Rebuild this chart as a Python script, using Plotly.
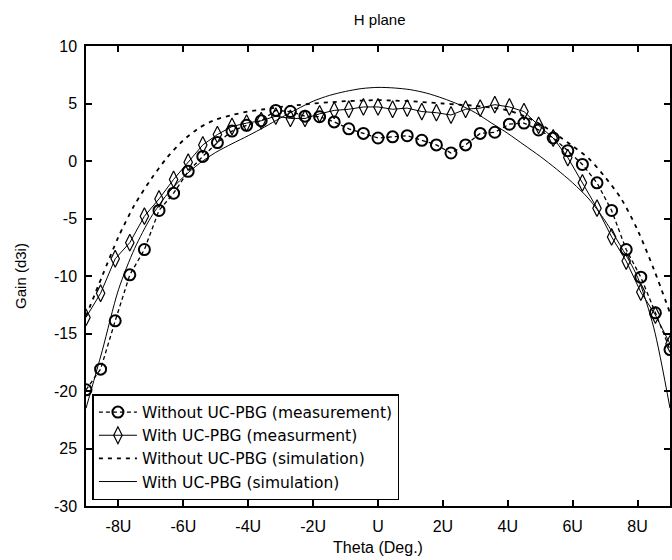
import plotly.graph_objects as go

# ---- data ----
theta_meas = [-90, -85.5, -81, -76.5, -72, -67.5, -63, -58.5, -54, -49.5, -45, -40.5, -36, -31.5,
              -27, -22.5, -18, -13.5, -9, -4.5, 0, 4.5, 9, 13.5, 18, 22.5, 27, 31.5, 36, 40.5,
              45, 49.5, 54, 58.5, 63, 67.5, 72, 76.5, 81, 85.5, 90]
without_meas = [-19.9, -18.1, -13.9, -9.9, -7.7, -4.3, -2.8, -0.9, 0.4, 1.6, 2.6, 3.1, 3.5, 4.4,
                4.3, 3.9, 3.85, 3.4, 2.8, 2.4, 2.0, 2.1, 2.2, 1.8, 1.4, 0.7, 1.4, 2.4, 2.5, 3.2,
                3.3, 2.7, 2.0, 0.9, -0.3, -1.9, -4.3, -7.7, -10.1, -13.2, -16.4]
with_meas = [-13.6, -11.5, -8.5, -7.1, -4.8, -3.3, -1.6, -0.1, 1.4, 2.3, 3.0, 3.3, 3.5, 3.9,
             3.7, 3.7, 4.1, 4.4, 4.5, 4.7, 4.7, 4.5, 4.6, 4.3, 4.2, 4.0, 4.5, 4.6, 4.9, 4.7,
             4.3, 3.1, 2.0, 0.3, -1.9, -4.1, -6.6, -8.7, -11.4, -13.4, -15.9]

theta_sim = [-90, -85, -80, -75, -70, -65, -60, -55, -50, -45, -40, -35, -30, -25, -20, -15, -10, -5,
             0, 5, 10, 15, 20, 25, 30, 35, 40, 45, 50, 55, 60, 65, 70, 75, 80, 85, 90]
without_sim = [-13.5, -10.0, -6.6, -3.8, -1.6, 0.3, 1.8, 2.9, 3.6, 4.0, 4.3, 4.5, 4.7, 4.85, 5.0, 5.1,
               5.2, 5.25, 5.3, 5.25, 5.2, 5.1, 5.0, 4.9, 4.8, 4.65, 4.4, 3.9, 3.2, 2.3, 1.3, 0.2,
               -1.4, -3.3, -6.0, -9.4, -13.2]
with_sim = [-21.5, -16.5, -11.2, -7.6, -4.9, -2.9, -1.4, -0.2, 0.75, 1.5, 2.2, 2.95, 3.75, 4.5, 5.2, 5.7,
            6.05, 6.3, 6.4, 6.35, 6.2, 5.9, 5.45, 4.9, 4.2, 3.3, 2.4, 1.4, 0.4, -0.7, -1.9, -3.3,
            -5.2, -7.5, -10.1, -14.5, -21.5]

x_tickvals = [-80, -60, -40, -20, 0, 20, 40, 60, 80]
x_ticktext = ["-8U", "-6U", "-4U", "-2U", "U", "2U", "4U", "6U", "8U"]
y_tickvals = [-30, -25, -20, -15, -10, -5, 0, 5, 10]
y_ticktext = ["-30", "25", "-20", "-15", "-10", "-5", "0", "5", "10"]

FONT = "Liberation Sans, Arial, sans-serif"
LEGFONT = "DejaVu Sans, Liberation Sans, sans-serif"

fig = go.Figure()
fig.add_trace(go.Scatter(
    x=theta_meas, y=without_meas, name="Without UC-PBG (measurement)",
    mode="lines+markers",
    line=dict(color="black", width=1.3, dash="4px,3px"),
    marker=dict(symbol="circle-open", size=11, color="black", line=dict(width=2, color="black")),
))
fig.add_trace(go.Scatter(
    x=theta_meas, y=with_meas, name="With UC-PBG (measurment)",
    mode="lines+markers",
    line=dict(color="black", width=1),
    marker=dict(symbol="diamond-tall-open", size=12, color="black", line=dict(width=1.2, color="black")),
))
fig.add_trace(go.Scatter(
    x=theta_sim, y=without_sim, name="Without UC-PBG (simulation)",
    mode="lines", line=dict(color="black", width=1.8, dash="4px,5px", shape="spline", smoothing=0.8),
))
fig.add_trace(go.Scatter(
    x=theta_sim, y=with_sim, name="With UC-PBG (simulation)",
    mode="lines", line=dict(color="black", width=1, shape="spline", smoothing=0.8),
))

axis_common = dict(
    showgrid=False, zeroline=False, showline=True, linecolor="black", linewidth=1.5,
    mirror="ticks", ticks="inside", ticklen=6, tickwidth=1.5, tickcolor="black",
    tickfont=dict(family=FONT, size=16, color="black"),
)

fig.update_layout(
    width=672, height=560,
    margin=dict(l=86, r=0, t=46, b=54),
    paper_bgcolor="white", plot_bgcolor="white",
    title=dict(text="H plane", x=0.565, xanchor="center", y=0.965, yanchor="middle",
               font=dict(family=FONT, size=15, color="black")),
    xaxis=dict(range=[-90, 90], tickvals=x_tickvals, ticktext=x_ticktext, ticklabelstandoff=5,
               title=dict(text="Theta (Deg.)", font=dict(family=FONT, size=16, color="black"), standoff=8),
               **axis_common),
    yaxis=dict(range=[-30, 10], tickvals=y_tickvals, ticktext=y_ticktext, ticklabelstandoff=4,
               title=dict(text="Gain (d3i)", font=dict(family=FONT, size=15, color="black"), standoff=24),
               **axis_common),
    legend=dict(x=0.011, y=0.013, xanchor="left", yanchor="bottom",
                bgcolor="white", bordercolor="black", borderwidth=1.5,
                font=dict(family=LEGFONT, size=15.5, color="black"),
                tracegroupgap=0, itemwidth=38),
    showlegend=True,
)

fig.write_html("out.html")
